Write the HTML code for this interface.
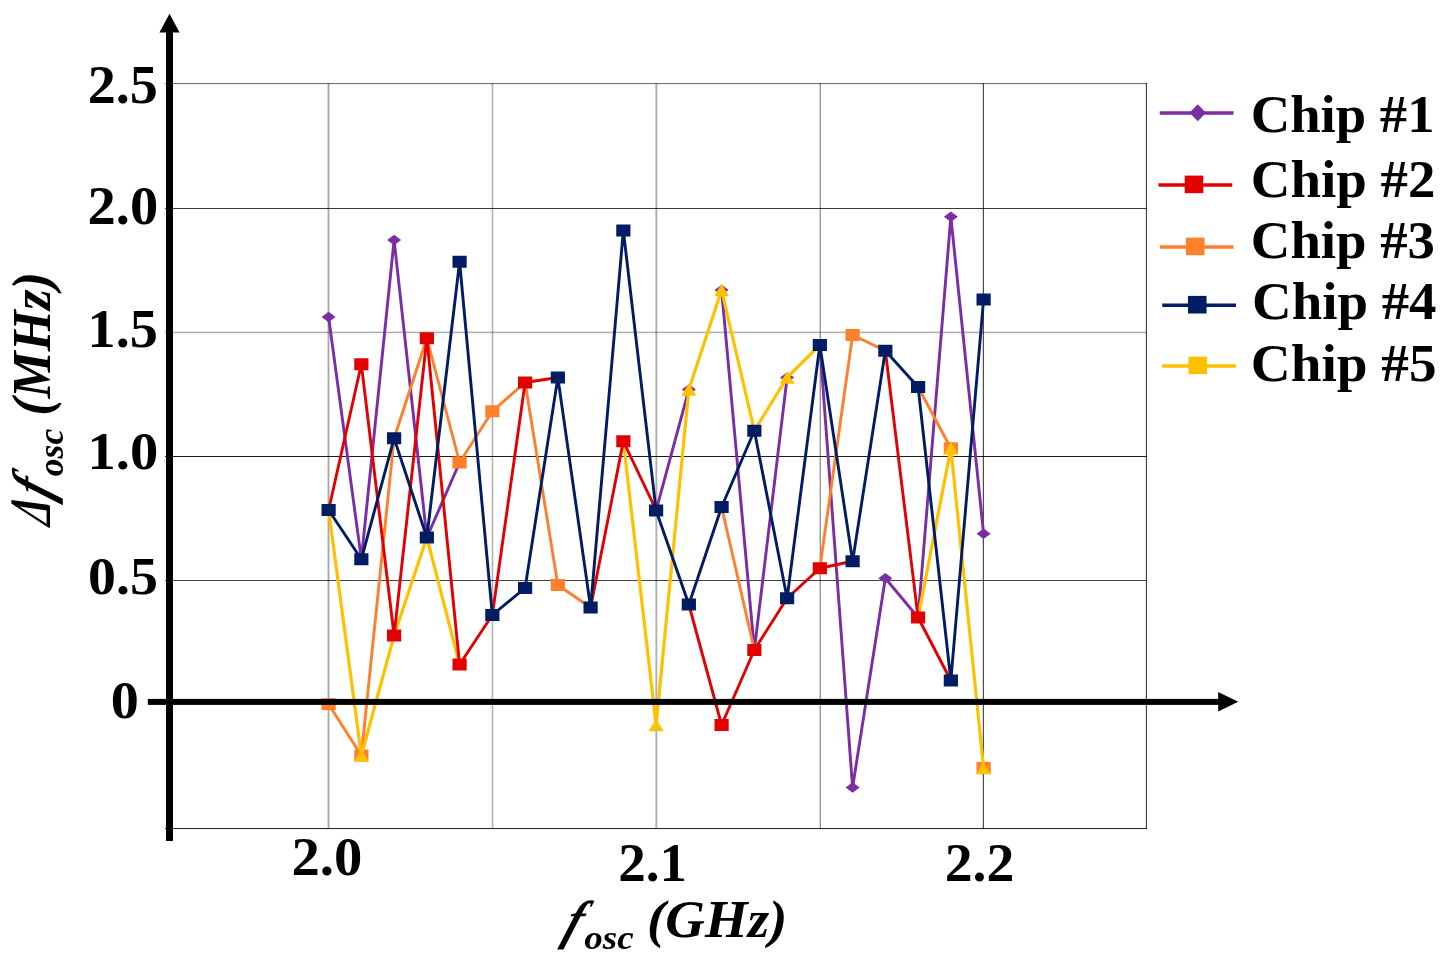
<!DOCTYPE html>
<html lang="en"><head><meta charset="utf-8"><title>Chart</title>
<style>html,body{margin:0;padding:0;background:#fff;}body{width:1448px;height:971px;overflow:hidden;}svg{display:block;}text{font-family:"Liberation Serif","Times New Roman",serif;font-weight:bold;fill:#000;}.it{font-style:italic;}.m{mix-blend-mode:multiply;}</style></head><body>
<svg width="1448" height="971" viewBox="0 0 1448 971">
<rect width="1448" height="971" fill="#fff"/>
<g shape-rendering="crispEdges">
<rect class="m" x="164" y="83" width="1" height="746" fill="#f2f2f2"/>
<rect class="m" x="327" y="83" width="1" height="746" fill="#dadada"/>
<rect class="m" x="328" y="83" width="1" height="746" fill="#a6a6a6"/>
<rect class="m" x="329" y="83" width="1" height="746" fill="#dadada"/>
<rect class="m" x="491" y="83" width="1" height="746" fill="#e8e8e8"/>
<rect class="m" x="492" y="83" width="1" height="746" fill="#b2b2b2"/>
<rect class="m" x="493" y="83" width="1" height="746" fill="#e8e8e8"/>
<rect class="m" x="655" y="83" width="1" height="746" fill="#cfcfcf"/>
<rect class="m" x="656" y="83" width="1" height="746" fill="#b0b0b0"/>
<rect class="m" x="657" y="83" width="1" height="746" fill="#e6e6e6"/>
<rect class="m" x="819" y="83" width="1" height="746" fill="#d2d2d2"/>
<rect class="m" x="820" y="83" width="1" height="746" fill="#989898"/>
<rect class="m" x="982" y="83" width="1" height="746" fill="#d8d8d8"/>
<rect class="m" x="983" y="83" width="1" height="746" fill="#4e4e4e"/>
<rect class="m" x="1145" y="83" width="1" height="746" fill="#e8e8e8"/>
<rect class="m" x="1146" y="83" width="1" height="746" fill="#404040"/>
<rect class="m" x="165" y="83" width="982" height="1" fill="#707070"/>
<rect class="m" x="165" y="84" width="982" height="1" fill="#f0f0f0"/>
<rect class="m" x="165" y="208" width="982" height="1" fill="#3a3a3a"/>
<rect class="m" x="165" y="331" width="982" height="1" fill="#e2e2e2"/>
<rect class="m" x="165" y="332" width="982" height="1" fill="#b0b0b0"/>
<rect class="m" x="165" y="333" width="982" height="1" fill="#f0f0f0"/>
<rect class="m" x="165" y="456" width="982" height="1" fill="#1c1c1c"/>
<rect class="m" x="165" y="580" width="982" height="1" fill="#444444"/>
<rect class="m" x="165" y="828" width="982" height="1" fill="#2a2a2a"/>
<rect class="m" x="165" y="829" width="982" height="1" fill="#f0f0f0"/>
</g>
<g>
<path d="M328.6,317 L361.35,559.25 L394.1,240 L426.85,537.5 L459.6,462.5 M656.1,510.5 L688.85,389.5 M721.6,290 L754.35,650 L787.1,377.5 M819.85,345 L852.6,787.5 L885.35,578.25 L918.1,617.5 L950.85,216.75 L983.6,533.75" fill="none" stroke="#7A2DA4" stroke-width="2.9" stroke-linejoin="round" stroke-linecap="round"/>
<polygon points="321.60,317 328.6,311.70 335.60,317 328.6,322.30" fill="#7A2DA4"/>
<polygon points="387.10,240 394.1,234.70 401.10,240 394.1,245.30" fill="#7A2DA4"/>
<polygon points="681.85,389.5 688.85,384.20 695.85,389.5 688.85,394.80" fill="#7A2DA4"/>
<polygon points="714.60,290 721.6,284.70 728.60,290 721.6,295.30" fill="#7A2DA4"/>
<polygon points="780.10,377.5 787.1,372.20 794.10,377.5 787.1,382.80" fill="#7A2DA4"/>
<polygon points="845.60,787.5 852.6,782.20 859.60,787.5 852.6,792.80" fill="#7A2DA4"/>
<polygon points="878.35,578.25 885.35,572.95 892.35,578.25 885.35,583.55" fill="#7A2DA4"/>
<polygon points="943.85,216.75 950.85,211.45 957.85,216.75 950.85,222.05" fill="#7A2DA4"/>
<polygon points="976.60,533.75 983.6,528.45 990.60,533.75 983.6,539.05" fill="#7A2DA4"/>
<path d="M328.6,704.2 L361.35,755.5 L394.1,438.25 L426.85,338.25 L459.6,462.5 L492.35,411.25 L525.1,382.5 L557.85,585 L590.6,607.5 M721.6,507 L754.35,650 M819.85,568.25 L852.6,335 L885.35,350.75 M918.1,387 L950.85,448.25" fill="none" stroke="#FF7F2A" stroke-width="2.9" stroke-linejoin="round" stroke-linecap="round"/>
<rect x="321.50" y="698.20" width="14.2" height="12" fill="#FF7F2A"/>
<rect x="354.25" y="749.50" width="14.2" height="12" fill="#FF7F2A"/>
<rect x="452.50" y="456.50" width="14.2" height="12" fill="#FF7F2A"/>
<rect x="485.25" y="405.25" width="14.2" height="12" fill="#FF7F2A"/>
<rect x="550.75" y="579.00" width="14.2" height="12" fill="#FF7F2A"/>
<rect x="845.50" y="329.00" width="14.2" height="12" fill="#FF7F2A"/>
<rect x="943.75" y="442.25" width="14.2" height="12" fill="#FF7F2A"/>
<rect x="976.50" y="762.00" width="14.2" height="12" fill="#FF7F2A"/>
<path d="M328.6,510 L361.35,755.5 L394.1,635.5 L426.85,537.5 L459.6,664.5 M623.35,441.25 L656.1,725 L688.85,389.5 L721.6,290 L754.35,430.75 L787.1,377.5 L819.85,345 M918.1,617.5 L950.85,448.25 L983.6,768" fill="none" stroke="#FFC000" stroke-width="3.2" stroke-linejoin="round" stroke-linecap="round"/>
<polygon points="353.85,761.70 361.35,749.30 368.85,761.70" fill="#FFC000"/>
<polygon points="648.60,731.20 656.1,718.80 663.60,731.20" fill="#FFC000"/>
<polygon points="681.35,395.70 688.85,383.30 696.35,395.70" fill="#FFC000"/>
<polygon points="714.10,296.20 721.6,283.80 729.10,296.20" fill="#FFC000"/>
<polygon points="779.60,383.70 787.1,371.30 794.60,383.70" fill="#FFC000"/>
<polygon points="943.35,454.45 950.85,442.05 958.35,454.45" fill="#FFC000"/>
<polygon points="976.10,774.20 983.6,761.80 991.10,774.20" fill="#FFC000"/>
<path d="M328.6,510 L361.35,364.25 L394.1,635.5 L426.85,338.25 L459.6,664.5 L492.35,615 L525.1,382.5 L557.85,377.5 M590.6,607.5 L623.35,441.25 L656.1,510 M688.85,604.5 L721.6,725 L754.35,650 L787.1,598.25 L819.85,568.25 L852.6,561.25 M885.35,350.75 L918.1,617.5 L950.85,680.5" fill="none" stroke="#E30000" stroke-width="2.9" stroke-linejoin="round" stroke-linecap="round"/>
<rect x="354.25" y="358.25" width="14.2" height="12" fill="#E30000"/>
<rect x="387.00" y="629.50" width="14.2" height="12" fill="#E30000"/>
<rect x="419.75" y="332.25" width="14.2" height="12" fill="#E30000"/>
<rect x="452.50" y="658.50" width="14.2" height="12" fill="#E30000"/>
<rect x="518.00" y="376.50" width="14.2" height="12" fill="#E30000"/>
<rect x="616.25" y="435.25" width="14.2" height="12" fill="#E30000"/>
<rect x="714.50" y="719.00" width="14.2" height="12" fill="#E30000"/>
<rect x="747.25" y="644.00" width="14.2" height="12" fill="#E30000"/>
<rect x="812.75" y="562.25" width="14.2" height="12" fill="#E30000"/>
<rect x="911.00" y="611.50" width="14.2" height="12" fill="#E30000"/>
<path d="M328.6,510 L361.35,559.25 L394.1,438.25 L426.85,537.5 L459.6,261.75 L492.35,615 L525.1,588 L557.85,377.5 L590.6,607.5 L623.35,230.5 L656.1,510.5 L688.85,604.5 L721.6,507 L754.35,430.75 L787.1,598.25 L819.85,345 L852.6,561.25 L885.35,350.75 L918.1,387 L950.85,680.5 L983.6,299.5" fill="none" stroke="#001C62" stroke-width="2.9" stroke-linejoin="round" stroke-linecap="round"/>
<rect x="321.50" y="504.00" width="14.2" height="12" fill="#001C62"/>
<rect x="354.25" y="553.25" width="14.2" height="12" fill="#001C62"/>
<rect x="387.00" y="432.25" width="14.2" height="12" fill="#001C62"/>
<rect x="419.75" y="531.50" width="14.2" height="12" fill="#001C62"/>
<rect x="452.50" y="255.75" width="14.2" height="12" fill="#001C62"/>
<rect x="485.25" y="609.00" width="14.2" height="12" fill="#001C62"/>
<rect x="518.00" y="582.00" width="14.2" height="12" fill="#001C62"/>
<rect x="550.75" y="371.50" width="14.2" height="12" fill="#001C62"/>
<rect x="583.50" y="601.50" width="14.2" height="12" fill="#001C62"/>
<rect x="616.25" y="224.50" width="14.2" height="12" fill="#001C62"/>
<rect x="649.00" y="504.50" width="14.2" height="12" fill="#001C62"/>
<rect x="681.75" y="598.50" width="14.2" height="12" fill="#001C62"/>
<rect x="714.50" y="501.00" width="14.2" height="12" fill="#001C62"/>
<rect x="747.25" y="424.75" width="14.2" height="12" fill="#001C62"/>
<rect x="780.00" y="592.25" width="14.2" height="12" fill="#001C62"/>
<rect x="812.75" y="339.00" width="14.2" height="12" fill="#001C62"/>
<rect x="845.50" y="555.25" width="14.2" height="12" fill="#001C62"/>
<rect x="878.25" y="344.75" width="14.2" height="12" fill="#001C62"/>
<rect x="911.00" y="381.00" width="14.2" height="12" fill="#001C62"/>
<rect x="943.75" y="674.50" width="14.2" height="12" fill="#001C62"/>
<rect x="976.50" y="293.50" width="14.2" height="12" fill="#001C62"/>
</g>
<g fill="#000" stroke="none">
<rect x="166" y="30" width="7" height="811"/>
<polygon points="169.5,13.8 159.4,32.6 179.6,32.6"/>
<rect x="147.8" y="698.9" width="1072" height="6"/>
<polygon points="1238.2,701.8 1218.2,692 1218.2,711.6"/>
</g>
<line x1="1159.75" y1="113" x2="1233.5" y2="113" stroke="#7A2DA4" stroke-width="3.6"/>
<polygon points="1189.50,112.7 1197.75,104.20 1206.00,112.7 1197.75,121.20" fill="#7A2DA4"/>
<line x1="1158.5" y1="185" x2="1232.25" y2="185" stroke="#E30000" stroke-width="3.6"/>
<rect x="1184.70" y="175.60" width="18.6" height="17.6" fill="#E30000"/>
<line x1="1159.75" y1="247" x2="1233.5" y2="247" stroke="#FF7F2A" stroke-width="3.6"/>
<rect x="1185.95" y="237.60" width="18.6" height="17.6" fill="#FF7F2A"/>
<line x1="1162.25" y1="305.3" x2="1236" y2="305.3" stroke="#001C62" stroke-width="3.6"/>
<rect x="1187.95" y="295.90" width="18.6" height="17.6" fill="#001C62"/>
<line x1="1162.25" y1="366" x2="1236" y2="366" stroke="#FFC000" stroke-width="3.6"/>
<rect x="1188.45" y="356.60" width="18.6" height="17.6" fill="#FFC000"/>
<text transform="translate(1250.77,132.35) scale(1.0292,1)" font-size="53.11">Chip #1</text>
<text transform="translate(1250.85,196.60) scale(1.0341,1)" font-size="53.11">Chip #2</text>
<text transform="translate(1250.86,258.25) scale(1.0310,1)" font-size="53.11">Chip #3</text>
<text transform="translate(1252.06,319.35) scale(1.0331,1)" font-size="53.11">Chip #4</text>
<text transform="translate(1250.84,381.05) scale(1.0406,1)" font-size="53.11">Chip #5</text>
<text transform="translate(87.66,102.59) scale(1.0372,1)" font-size="54.07">2.5</text>
<text transform="translate(87.54,224.19) scale(1.0439,1)" font-size="54.12">2.0</text>
<text transform="translate(87.50,346.78) scale(1.0306,1)" font-size="54.63">1.5</text>
<text transform="translate(87.48,469.01) scale(1.0711,1)" font-size="52.79">1.0</text>
<text transform="translate(87.96,593.59) scale(1.0417,1)" font-size="53.68">0.5</text>
<text transform="translate(110.75,718.47) scale(1.0595,1)" font-size="53.04">0</text>
<text transform="translate(291.53,875.28) scale(1.0386,1)" font-size="54.56">2.0</text>
<text transform="translate(618.20,881.49) scale(1.0159,1)" font-size="54.22">2.1</text>
<text transform="translate(944.67,881.49) scale(1.0274,1)" font-size="54.22">2.2</text>
<text transform="translate(561.25,938.05) scale(0.8906,1) skewX(-22)" font-size="53.55" class="it">f</text>
<text transform="translate(584.35,948.96) scale(1.0963,1)" font-size="33.75" class="it">osc</text>
<text transform="translate(646.95,936.60) scale(1.0592,1)" font-size="51.89" class="it">(GHz)</text>
<text transform="translate(50.30,526.82) rotate(-90) scale(1,1.4830) skewX(-20)" font-size="39.44" class="it">Δ</text>
<text transform="translate(50.82,500.88) rotate(-90) scale(1,1.1479) skewX(-22)" font-size="48.46" class="it">f</text>
<text transform="translate(62.64,476.23) rotate(-90) scale(1,1.0237)" font-size="35.62" class="it">osc</text>
<text transform="translate(49.56,415.74) rotate(-90) scale(1,1.0220)" font-size="52.84" class="it">(MHz)</text>
</svg></body></html>
